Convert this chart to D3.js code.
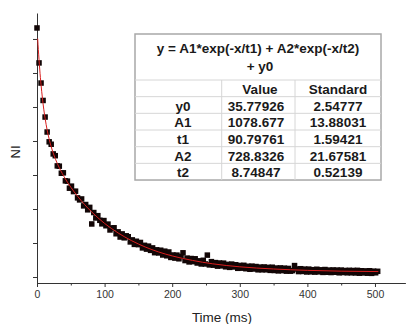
<!DOCTYPE html>
<html>
<head>
<meta charset="utf-8">
<script src="https://cdn.jsdelivr.net/npm/d3@7"></script>
<style>
  html, body { margin: 0; padding: 0; background: #fff; }
  svg { display: block; }
</style>
</head>
<body>
<svg id="chart" width="409" height="324"></svg>
<script>
// ---- data ----
const sampleStepMs = 3;
const niValues = [
  1831,1574,1426,1298,1176,1066,994,976,905,892,
  817,815,763,766,707,705,653,668,628,631,
  582,567,574,523,533,494,512,390,474,434,
  451,417,391,415,377,389,346,360,362,318,
  332,294,317,288,303,296,258,273,240,263,
  238,254,214,233,205,227,196,214,179,200,
  177,197,162,190,156,184,144,162,139,161,
  134,151,178,121,139,111,136,113,134,103,
  119,96,123,96,161,89,113,87,106,80,
  103,82,102,75,93,71,95,74,90,64,
  85,65,86,61,79,57,80,59,77,53,
  73,53,74,53,71,49,72,48,66,45,
  67,47,65,43,63,43,47,84,59,40,
  61,41,58,37,58,38,54,36,57,38,
  53,34,55,35,51,33,52,35,51,31,
  51,33,48,31,49,31,48,30,49,28,
  46,30,45,28,46,27,43,31,42
];
// fitted curve
const fitTimes  = [1,2,3,4,5,6,8,10,12,15,18,21,25,30,35,40,50,60,70,80,90,100,120,140,160,180,200,230,260,300,350,400,450,505];
const fitValues = [1753,1671,1597,1529,1468,1413,1316,1234,1166,1081,1014,958,897,835,783,738,660,594,535,483,436,394,324,267,221,184,155,122,97,75,59,49,43,40];

const xMajorTicks = [0,100,200,300,400,500];
const xMinorTicks = [50,150,250,350,450];
const yTicks = [0,250,500,750,1000,1250,1500,1750];

const tableTitle1 = "y = A1*exp(-x/t1) + A2*exp(-x/t2)";
const tableTitle2 = "+ y0";
const tableHeader = ["", "Value", "Standard"];
const paramNames  = ["y0","A1","t1","A2","t2"];
const paramValues = ["35.77926","1078.677","90.79761","728.8326","8.74847"];
const paramErrors = ["2.54777","13.88031","1.59421","21.67581","0.52139"];

const xLabel = "Time (ms)";
const yLabel = "NI";

// ---- drawing ----
const svg = d3.select("#chart");
svg.append("rect").attr("width",409).attr("height",324).attr("fill","#fff");

const x = d3.scaleLinear().domain([0, 545]).range([37, 405.4]);
const y = d3.scaleLinear().domain([-44, 1941]).range([283, 13]);

const axisColor = "#333";
const font = "Liberation Sans, Arial, sans-serif";

// minor x ticks
const gxMinor = svg.append("g").attr("transform","translate(0,283)")
  .call(d3.axisBottom(x).tickValues(xMinorTicks).tickSize(2.5).tickSizeOuter(0).tickFormat(""));
gxMinor.select(".domain").remove();
gxMinor.selectAll("line").attr("stroke",axisColor);

const gx = svg.append("g").attr("transform","translate(0,283)")
  .call(d3.axisBottom(x).tickValues(xMajorTicks).tickSize(4).tickSizeOuter(0).tickPadding(4));
gx.select(".domain").attr("stroke",axisColor);
gx.selectAll("line").attr("stroke",axisColor);
gx.selectAll("text").attr("fill","#333").attr("font-family",font).attr("font-size","10.5px");

const gy = svg.append("g").attr("transform","translate(37,0)")
  .call(d3.axisLeft(y).tickValues(yTicks).tickSize(4).tickSizeOuter(0).tickFormat(""));
gy.select(".domain").attr("stroke",axisColor);
gy.selectAll("line").attr("stroke",axisColor);

// scatter
const pts = niValues.map((v,i) => ({t: i*sampleStepMs, v}));
svg.append("g").selectAll("rect").data(pts).join("rect")
  .attr("x", d => x(d.t) - 2.75)
  .attr("y", d => y(d.v) - 2.75)
  .attr("width",5.5).attr("height",5.5)
  .attr("fill","#120606");

// fit line
const fitPts = fitTimes.map((t,i) => ({t, v: fitValues[i]}));
svg.append("path").datum(fitPts)
  .attr("fill","none").attr("stroke","#d81e1e").attr("stroke-width",1)
  .attr("d", d3.line().x(d => x(d.t)).y(d => y(d.v)).curve(d3.curveMonotoneX));

// axis titles
svg.append("text").attr("x",222).attr("y",322).attr("text-anchor","middle")
  .attr("font-family",font).attr("font-size","13.5px").attr("fill","#222").text(xLabel);
svg.append("text").attr("transform","translate(19.5,152) rotate(-90)").attr("text-anchor","middle")
  .attr("font-family",font).attr("font-size","13px").attr("fill","#222").text(yLabel);

// table
const tb = svg.append("g");
const tx0 = 135, tx3 = 381, ty0 = 34, tyH = 80, rowH = 16.67, nRows = 6;
const colX = [tx0, 221.7, 295, tx3];
const tyEnd = tyH + rowH*nRows;
tb.append("rect").attr("x",tx0).attr("y",ty0).attr("width",tx3-tx0).attr("height",tyEnd-ty0)
  .attr("fill","#fff").attr("stroke","#a8a8a8").attr("stroke-width",1.5);
for (let r=0; r<nRows; r++) {
  tb.append("line").attr("x1",tx0).attr("x2",tx3)
    .attr("y1",tyH + r*rowH).attr("y2",tyH + r*rowH)
    .attr("stroke","#d6d6d6").attr("stroke-width",1);
}
[colX[1], colX[2]].forEach(cx => tb.append("line").attr("x1",cx).attr("x2",cx)
  .attr("y1",tyH).attr("y2",tyEnd).attr("stroke","#d6d6d6").attr("stroke-width",1));

const tText = (tx, ty, s) => tb.append("text").attr("x",tx).attr("y",ty)
  .attr("text-anchor","middle").attr("font-family",font).attr("font-weight","bold")
  .attr("font-size","13.5px").attr("fill","#1a1a1a").text(s);
tText(258, 52.5, tableTitle1);
tText(260, 70.7, tableTitle2);
tText(260, tyH + 14, tableHeader[1]);
tText(338, tyH + 14, tableHeader[2]);
paramNames.forEach((n,i) => {
  const by = tyH + rowH*(i+1) + 14;
  tText(183, by, n);
  tText(256, by, paramValues[i]);
  tText(338, by, paramErrors[i]);
});
</script>
</body>
</html>
